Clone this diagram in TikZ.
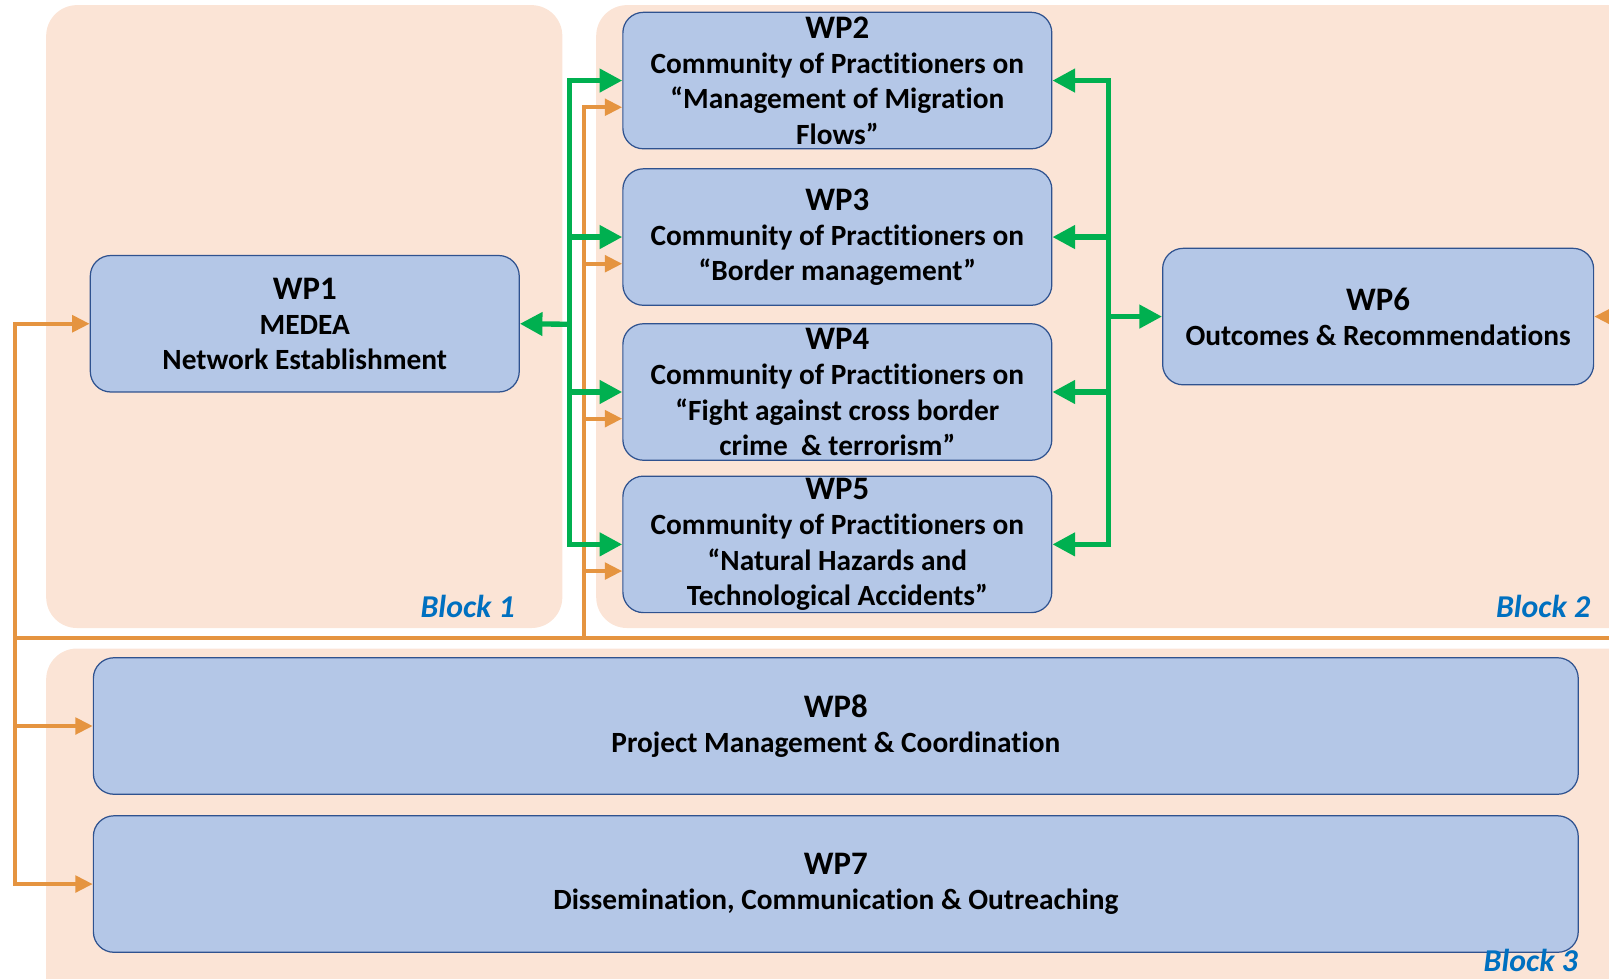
\documentclass[tikz,border=0pt]{standalone}
\usepackage{fontspec}
\setmainfont{Carlito}[Ligatures={NoCommon,NoContextual},RawFeature={-liga;-clig;-calt}]
\usetikzlibrary{positioning,arrows.meta,calc}
\definecolor{blockbg}{HTML}{FBE4D6}
\definecolor{wpfill}{HTML}{B4C7E7}
\definecolor{wpdraw}{HTML}{2F528F}
\definecolor{gruen}{HTML}{00B050}
\definecolor{wporange}{HTML}{E59440}
\definecolor{blocktext}{HTML}{0070C0}
\newcommand{\wptitle}[1]{{\fontsize{16}{18}\selectfont #1}}

\begin{document}
\begin{tikzpicture}[x=0.5pt,y=-0.5pt,
    block/.style={fill=blockbg,rounded corners=15pt},
    blocklabel/.style={anchor=east,inner sep=0pt,text=blocktext,font=\bfseries\itshape\fontsize{15.5}{18}\selectfont},
    wp/.style={draw=wpdraw,fill=wpfill,rounded corners=10pt,line width=0.6pt,
      minimum width=209pt,minimum height=66.5pt,inner sep=0pt,align=center,
      font=\bfseries\fontsize{14.3}{17.2}\selectfont},
    wide/.style={wp,minimum width=723.5pt},
    gline/.style={draw=gruen,line width=2.6pt,>={Triangle[length=11pt,width=11pt]}},
    oline/.style={draw=wporange,line width=2pt,>={Triangle[length=8.5pt,width=8pt]}}]
    \useasboundingbox (0,0) rectangle (1568,954);
    \clip (0,0) rectangle (1568,954);

    % Bloecke
    \fill[block] (45,5) rectangle (548,612);
    \fill[block] (581,5) rectangle (1620,612);
    \fill[block] (45,632) rectangle (1620,1000);

    % Arbeitspakete
    \node[wp] (wp1) at (297,315.5) {\wptitle{WP1}\\MEDEA\\Network Establishment};
    \node[wp] (wp2) at (816,78.5) {\wptitle{WP2}\\Community of Practitioners on\\“Management of Migration\\Flows”};
    \node[wp] (wp3) at (816,231) {\wptitle{WP3}\\Community of Practitioners on\\“Border management”};
    \node[wp] (wp4) at (816,382) {\wptitle{WP4}\\Community of Practitioners on\\“Fight against cross border\\crime\ \ \& terrorism”};
    \node[wp] (wp5) at (816,530.5) {\wptitle{WP5}\\Community of Practitioners on\\“Natural Hazards and\\Technological Accidents”};
    \node[wp,minimum width=210pt] (wp6) at (1343,308.5) {\wptitle{WP6}\\Outcomes \& Recommendations};
    \node[wide] (wp8) at (814.5,707.5) {\wptitle{WP8}\\Project Management \& Coordination};
    \node[wide] (wp7) at (814.5,861.5) {\wptitle{WP7}\\Dissemination, Communication \& Outreaching};

    \node[blocklabel] (b1) at (502,591) {Block 1};
    \node[blocklabel] (b2) at (1550,591) {Block 2};
    \node[blocklabel] (b3) at (1538,936) {Block 3};

    % orange Verbindungen
    \coordinate (ol) at (15,622);
    \coordinate (om) at (569,622);
    \coordinate (or) at (1600,622);
    \draw[oline] (ol) -- (or);
    \draw[oline,<->] (wp1.west) -| (ol) |- (wp7.west);
    \draw[oline,->] (ol|-wp8.west) -- (wp8.west);
    \draw[oline,->] (or) |- (wp6.east);
    \draw[oline,->] (om) |- ($(wp2.west)+(0,26)$);
    \foreach \n in {3,4,5}
      \draw[oline,->] ($(om|-wp\n.west)+(0,26)$) -- ($(wp\n.west)+(0,26)$);

    % gruene Verbindungen
    \coordinate (gl) at (555,316);
    \coordinate (gr) at (1080,308.5);
    \draw[gline,<->] (wp2.west) -| (gl) |- (wp5.west);
    \draw[gline,->] (gl) -- (wp1.east);
    \draw[gline,<->] (wp2.east) -| (gr) |- (wp5.east);
    \draw[gline,->] (gr) -- (wp6.west);
    \foreach \n in {3,4} {
      \draw[gline,->] (gl|-wp\n.west) -- (wp\n.west);
      \draw[gline,->] (gr|-wp\n.east) -- (wp\n.east);
    }

\end{tikzpicture}
\end{document}
